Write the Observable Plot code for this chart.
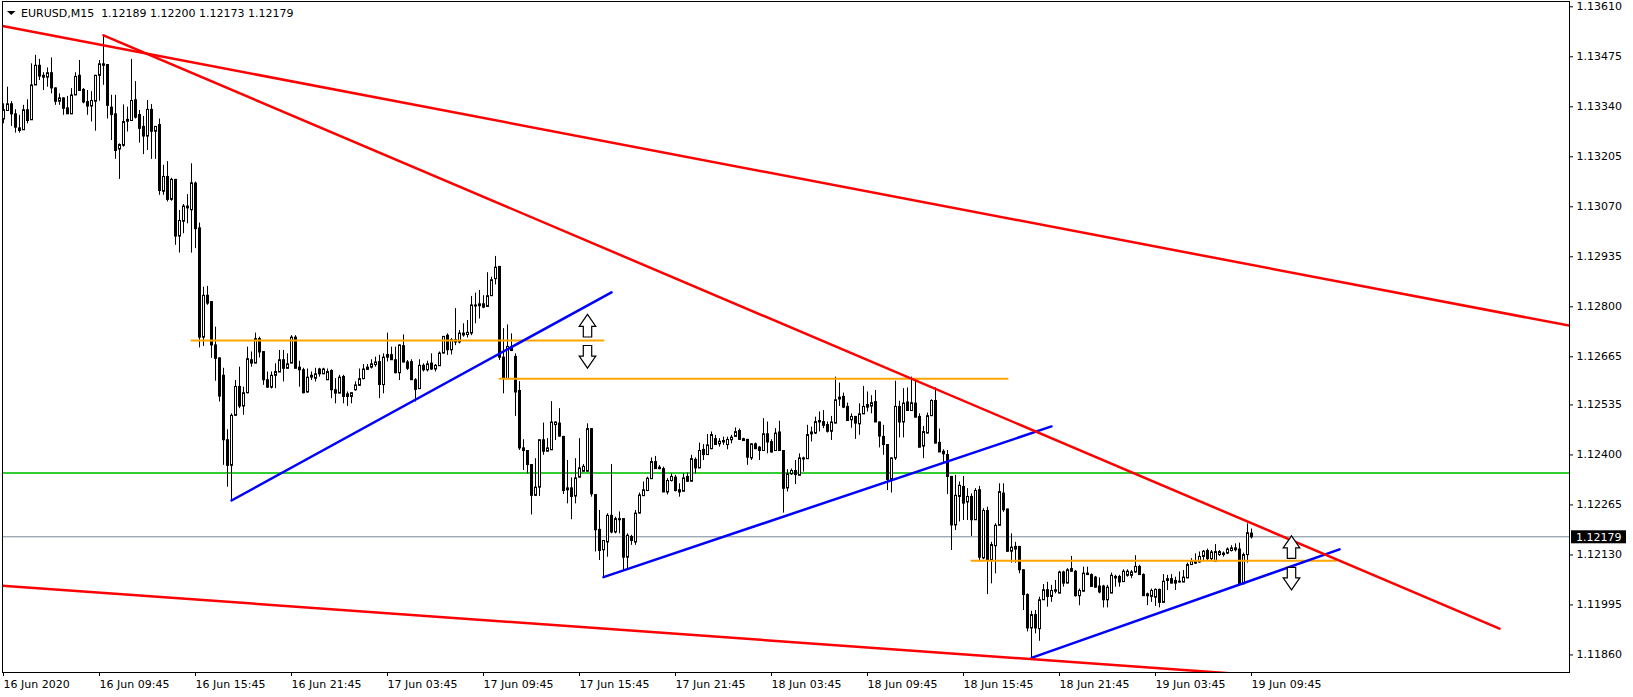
<!DOCTYPE html>
<html><head><meta charset="utf-8">
<script src="https://cdn.jsdelivr.net/npm/d3@7"></script>
<script src="https://cdn.jsdelivr.net/npm/@observablehq/plot@0.6"></script>
<style>
html,body{margin:0;padding:0;background:#fff;}
#chart{position:relative;width:1633px;height:697px;overflow:hidden;}
svg{display:block;}
</style></head><body><div id="chart"></div>
<script>
const symbolName = "EURUSD";
const timeframe = "M15";

const open = [
1.13307,1.13330,1.13348,1.13321,1.13283,1.13278,1.13332,1.13305,1.13399,1.13452,
1.13425,1.13420,1.13432,1.13391,1.13355,1.13364,1.13337,1.13321,1.13372,1.13425,
1.13387,1.13354,1.13342,1.13355,1.13425,1.13456,1.13454,1.13339,1.13321,1.13226,
1.13236,1.13301,1.13303,1.13359,1.13319,1.13287,1.13261,1.13333,1.13274,1.13292,
1.13112,1.13152,1.13090,1.13144,1.12991,1.13031,1.13067,1.13062,1.13134,1.13013,
1.12718,1.12831,1.12814,1.12697,1.12662,1.12615,1.12441,1.12372,1.12507,1.12585,
1.12532,1.12568,1.12657,1.12648,1.12714,1.12679,1.12603,1.12583,1.12615,1.12624,
1.12657,1.12634,1.12648,1.12718,1.12637,1.12630,1.12570,1.12610,1.12607,1.12632,
1.12619,1.12603,1.12628,1.12576,1.12567,1.12612,1.12565,1.12558,1.12576,1.12588,
1.12606,1.12631,1.12637,1.12644,1.12652,1.12590,1.12664,1.12671,1.12657,1.12622,
1.12695,1.12651,1.12652,1.12603,1.12579,1.12642,1.12630,1.12648,1.12632,1.12641,
1.12675,1.12723,1.12684,1.12711,1.12705,1.12724,1.12725,1.12729,1.12802,1.12803,
1.12808,1.12801,1.12830,1.12876,1.12909,1.12664,1.12606,1.12693,1.12666,1.12574,
1.12419,1.12412,1.12374,1.12291,1.12313,1.12441,1.12410,1.12414,1.12482,1.12486,
1.12450,1.12311,1.12311,1.12289,1.12340,1.12356,1.12356,1.12471,1.12293,1.12199,
1.12144,1.12165,1.12237,1.12192,1.12225,1.12228,1.12124,1.12180,1.12165,1.12243,
1.12290,1.12304,1.12336,1.12382,1.12367,1.12363,1.12300,1.12331,1.12340,1.12306,
1.12302,1.12342,1.12329,1.12388,1.12365,1.12415,1.12401,1.12417,1.12444,1.12430,
1.12435,1.12428,1.12441,1.12450,1.12466,1.12444,1.12442,1.12392,1.12430,1.12421,
1.12412,1.12457,1.12436,1.12412,1.12462,1.12412,1.12311,1.12349,1.12358,1.12345,
1.12389,1.12390,1.12457,1.12459,1.12493,1.12490,1.12482,1.12464,1.12486,1.12551,
1.12558,1.12531,1.12495,1.12504,1.12484,1.12511,1.12529,1.12532,1.12544,1.12489,
1.12450,1.12428,1.12334,1.12392,1.12531,1.12489,1.12543,1.12520,1.12540,1.12504,
1.12424,1.12459,1.12506,1.12547,1.12434,1.12410,1.12401,1.12342,1.12211,1.12288,
1.12315,1.12273,1.12288,1.12225,1.12306,1.12122,1.12250,1.12117,1.12155,1.12210,
1.12297,1.12254,1.12140,1.12153,1.12153,1.12090,1.12023,1.11933,1.11969,1.11931,
1.12009,1.12036,1.12018,1.12032,1.12027,1.12084,1.12054,1.12093,1.12086,1.12020,
1.12032,1.12077,1.12077,1.12070,1.12046,1.12046,1.12009,1.12027,1.12068,1.12072,
1.12058,1.12075,1.12075,1.12084,1.12099,1.12077,1.12025,1.12018,1.12016,1.12037,
1.12002,1.12061,1.12066,1.12061,1.12057,1.12057,1.12068,1.12104,1.12115,1.12111,
1.12126,1.12142,1.12120,1.12113,1.12131,1.12135,1.12135,1.12142,1.12149,1.12146,
1.12052,1.12131,1.12189];

const high = [
1.13348,1.13393,1.13354,1.13332,1.13317,1.13344,1.13359,1.13456,1.13479,1.13468,
1.13432,1.13445,1.13472,1.13391,1.13375,1.13364,1.13368,1.13389,1.13432,1.13465,
1.13389,1.13384,1.13381,1.13425,1.13465,1.13533,1.13454,1.13371,1.13371,1.13240,
1.13345,1.13339,1.13468,1.13408,1.13330,1.13314,1.13357,1.13346,1.13287,1.13307,
1.13182,1.13192,1.13147,1.13144,1.13060,1.13076,1.13103,1.13186,1.13137,1.13026,
1.12853,1.12855,1.12814,1.12745,1.12662,1.12634,1.12468,1.12511,1.12601,1.12637,
1.12583,1.12691,1.12678,1.12729,1.12718,1.12679,1.12624,1.12624,1.12646,1.12682,
1.12682,1.12673,1.12722,1.12722,1.12653,1.12634,1.12632,1.12624,1.12634,1.12634,
1.12634,1.12632,1.12630,1.12606,1.12615,1.12615,1.12570,1.12568,1.12597,1.12632,
1.12644,1.12644,1.12657,1.12664,1.12669,1.12673,1.12729,1.12691,1.12691,1.12697,
1.12724,1.12655,1.12657,1.12606,1.12657,1.12646,1.12653,1.12673,1.12644,1.12678,
1.12720,1.12727,1.12714,1.12795,1.12736,1.12754,1.12763,1.12828,1.12837,1.12844,
1.12830,1.12892,1.12880,1.12936,1.12909,1.12741,1.12751,1.12727,1.12673,1.12598,
1.12441,1.12412,1.12374,1.12390,1.12441,1.12486,1.12444,1.12544,1.12489,1.12525,
1.12450,1.12385,1.12338,1.12390,1.12444,1.12374,1.12484,1.12471,1.12293,1.12250,
1.12169,1.12241,1.12374,1.12232,1.12246,1.12228,1.12187,1.12183,1.12250,1.12297,
1.12327,1.12340,1.12392,1.12396,1.12371,1.12367,1.12336,1.12349,1.12345,1.12322,
1.12349,1.12351,1.12399,1.12392,1.12432,1.12428,1.12455,1.12462,1.12453,1.12444,
1.12448,1.12448,1.12453,1.12473,1.12470,1.12445,1.12442,1.12430,1.12432,1.12423,
1.12498,1.12489,1.12441,1.12471,1.12491,1.12412,1.12360,1.12362,1.12385,1.12403,
1.12394,1.12480,1.12475,1.12502,1.12516,1.12520,1.12489,1.12504,1.12610,1.12594,
1.12567,1.12540,1.12511,1.12504,1.12538,1.12585,1.12570,1.12560,1.12574,1.12489,
1.12480,1.12428,1.12392,1.12599,1.12545,1.12579,1.12581,1.12610,1.12606,1.12511,
1.12477,1.12513,1.12549,1.12581,1.12470,1.12414,1.12412,1.12342,1.12345,1.12327,
1.12342,1.12309,1.12295,1.12309,1.12315,1.12255,1.12259,1.12164,1.12214,1.12322,
1.12322,1.12254,1.12187,1.12164,1.12153,1.12090,1.12025,1.11978,1.11980,1.12016,
1.12050,1.12056,1.12048,1.12061,1.12086,1.12086,1.12093,1.12126,1.12088,1.12038,
1.12097,1.12097,1.12079,1.12072,1.12068,1.12048,1.12048,1.12081,1.12075,1.12075,
1.12090,1.12090,1.12088,1.12128,1.12102,1.12079,1.12027,1.12038,1.12038,1.12038,
1.12077,1.12075,1.12077,1.12070,1.12084,1.12088,1.12108,1.12120,1.12133,1.12138,
1.12142,1.12146,1.12142,1.12158,1.12142,1.12138,1.12149,1.12155,1.12160,1.12162,
1.12135,1.12214,1.12200];

const low = [
1.13294,1.13328,1.13287,1.13269,1.13269,1.13276,1.13294,1.13303,1.13398,1.13411,
1.13384,1.13393,1.13375,1.13344,1.13344,1.13317,1.13319,1.13319,1.13371,1.13384,
1.13348,1.13317,1.13299,1.13274,1.13355,1.13398,1.13307,1.13249,1.13198,1.13144,
1.13231,1.13272,1.13301,1.13307,1.13242,1.13211,1.13222,1.13198,1.13198,1.13101,
1.13101,1.13083,1.13085,1.12966,1.12945,1.12997,1.13024,1.12945,1.12957,1.12689,
1.12693,1.12804,1.12661,1.12599,1.12543,1.12372,1.12313,1.12277,1.12504,1.12525,
1.12507,1.12565,1.12637,1.12648,1.12662,1.12588,1.12580,1.12578,1.12579,1.12624,
1.12597,1.12632,1.12648,1.12634,1.12583,1.12565,1.12567,1.12601,1.12597,1.12610,
1.12617,1.12601,1.12552,1.12538,1.12565,1.12538,1.12531,1.12538,1.12572,1.12585,
1.12603,1.12630,1.12632,1.12637,1.12552,1.12565,1.12651,1.12655,1.12619,1.12601,
1.12648,1.12628,1.12601,1.12543,1.12577,1.12624,1.12624,1.12628,1.12624,1.12639,
1.12673,1.12669,1.12670,1.12695,1.12700,1.12718,1.12716,1.12722,1.12754,1.12767,
1.12795,1.12799,1.12828,1.12859,1.12655,1.12565,1.12603,1.12679,1.12504,1.12412,
1.12358,1.12349,1.12238,1.12288,1.12288,1.12399,1.12410,1.12412,1.12439,1.12448,
1.12293,1.12268,1.12225,1.12268,1.12338,1.12354,1.12354,1.12286,1.12138,1.12115,
1.12070,1.12124,1.12187,1.12187,1.12187,1.12088,1.12093,1.12156,1.12156,1.12241,
1.12290,1.12301,1.12336,1.12363,1.12360,1.12300,1.12292,1.12327,1.12300,1.12286,
1.12301,1.12327,1.12327,1.12349,1.12363,1.12385,1.12399,1.12414,1.12428,1.12421,
1.12426,1.12414,1.12430,1.12448,1.12439,1.12436,1.12372,1.12385,1.12414,1.12385,
1.12410,1.12403,1.12405,1.12410,1.12410,1.12243,1.12300,1.12345,1.12320,1.12345,
1.12354,1.12390,1.12435,1.12455,1.12462,1.12471,1.12459,1.12439,1.12484,1.12531,
1.12525,1.12493,1.12472,1.12442,1.12453,1.12509,1.12516,1.12511,1.12489,1.12419,
1.12399,1.12304,1.12297,1.12385,1.12446,1.12446,1.12520,1.12520,1.12500,1.12419,
1.12390,1.12457,1.12504,1.12430,1.12408,1.12380,1.12293,1.12142,1.12196,1.12219,
1.12223,1.12223,1.12180,1.12223,1.12111,1.12117,1.12023,1.12052,1.12079,1.12210,
1.12245,1.12137,1.12108,1.12108,1.12079,1.11980,1.11922,1.11852,1.11917,1.11897,
1.12007,1.11989,1.12002,1.12025,1.12025,1.12043,1.12052,1.12084,1.12016,1.11993,
1.12030,1.12075,1.12043,1.12040,1.12025,1.11987,1.11987,1.12027,1.12043,1.12043,
1.12057,1.12070,1.12066,1.12081,1.12075,1.12020,1.11993,1.12002,1.11991,1.11987,
1.12000,1.12034,1.12052,1.12034,1.12054,1.12055,1.12067,1.12102,1.12104,1.12108,
1.12111,1.12113,1.12113,1.12111,1.12126,1.12124,1.12131,1.12138,1.12138,1.12050,
1.12050,1.12108,1.12173];

const close = [
1.13332,1.13348,1.13321,1.13285,1.13276,1.13332,1.13303,1.13399,1.13452,1.13423,
1.13420,1.13432,1.13391,1.13355,1.13364,1.13336,1.13321,1.13372,1.13422,1.13384,
1.13353,1.13342,1.13357,1.13425,1.13456,1.13452,1.13344,1.13319,1.13222,1.13238,
1.13300,1.13306,1.13357,1.13312,1.13282,1.13261,1.13333,1.13274,1.13287,1.13114,
1.13152,1.13090,1.13144,1.12991,1.13033,1.13072,1.13072,1.13135,1.13011,1.12718,
1.12831,1.12810,1.12697,1.12661,1.12559,1.12441,1.12372,1.12507,1.12585,1.12532,
1.12568,1.12660,1.12648,1.12714,1.12678,1.12603,1.12583,1.12615,1.12625,1.12657,
1.12634,1.12646,1.12718,1.12634,1.12630,1.12568,1.12610,1.12615,1.12619,1.12619,
1.12632,1.12625,1.12576,1.12567,1.12610,1.12558,1.12558,1.12568,1.12589,1.12606,
1.12632,1.12637,1.12646,1.12651,1.12590,1.12664,1.12671,1.12657,1.12622,1.12697,
1.12651,1.12634,1.12603,1.12577,1.12642,1.12630,1.12646,1.12632,1.12642,1.12675,
1.12720,1.12684,1.12711,1.12705,1.12729,1.12729,1.12731,1.12805,1.12805,1.12808,
1.12799,1.12830,1.12873,1.12907,1.12664,1.12606,1.12693,1.12682,1.12570,1.12419,
1.12412,1.12374,1.12291,1.12313,1.12441,1.12410,1.12419,1.12489,1.12489,1.12451,
1.12304,1.12306,1.12288,1.12338,1.12365,1.12369,1.12471,1.12295,1.12198,1.12142,
1.12169,1.12237,1.12192,1.12228,1.12228,1.12124,1.12183,1.12169,1.12243,1.12292,
1.12306,1.12337,1.12382,1.12363,1.12363,1.12300,1.12331,1.12342,1.12304,1.12300,
1.12338,1.12329,1.12390,1.12365,1.12412,1.12401,1.12427,1.12455,1.12428,1.12437,
1.12439,1.12442,1.12448,1.12463,1.12442,1.12439,1.12394,1.12430,1.12417,1.12412,
1.12457,1.12435,1.12408,1.12459,1.12412,1.12310,1.12349,1.12358,1.12347,1.12392,
1.12392,1.12455,1.12462,1.12490,1.12489,1.12480,1.12464,1.12489,1.12549,1.12556,
1.12529,1.12493,1.12504,1.12486,1.12511,1.12531,1.12536,1.12541,1.12489,1.12451,
1.12428,1.12334,1.12392,1.12531,1.12489,1.12540,1.12520,1.12541,1.12502,1.12421,
1.12463,1.12506,1.12547,1.12432,1.12408,1.12403,1.12342,1.12211,1.12291,1.12318,
1.12270,1.12288,1.12225,1.12304,1.12124,1.12250,1.12115,1.12158,1.12210,1.12301,
1.12252,1.12140,1.12151,1.12146,1.12090,1.12023,1.11933,1.11969,1.11933,1.12009,
1.12036,1.12018,1.12034,1.12036,1.12084,1.12054,1.12090,1.12086,1.12020,1.12034,
1.12081,1.12081,1.12045,1.12043,1.12030,1.12009,1.12043,1.12075,1.12072,1.12057,
1.12086,1.12086,1.12084,1.12099,1.12077,1.12020,1.12020,1.12034,1.12037,1.12002,
1.12059,1.12066,1.12054,1.12054,1.12059,1.12070,1.12104,1.12113,1.12108,1.12126,
1.12140,1.12120,1.12138,1.12139,1.12139,1.12131,1.12146,1.12149,1.12144,1.12052,
1.12131,1.12190,1.12179];

// time axis: bar index of each label (M15 bars, first bar = 16 Jun 03:45)
const timeTickBars = [0,24,48,72,96,120,144,168,192,216,240,264,288,312];
const timeTickLabels = ["16 Jun 2020","16 Jun 09:45","16 Jun 15:45","16 Jun 21:45","17 Jun 03:45","17 Jun 09:45","17 Jun 15:45","17 Jun 21:45","18 Jun 03:45","18 Jun 09:45","18 Jun 15:45","18 Jun 21:45","19 Jun 03:45","19 Jun 09:45"];
const priceTicks = [1.13610,1.13475,1.13340,1.13205,1.13070,1.12935,1.12800,1.12665,1.12535,1.12400,1.12265,1.12130,1.11995,1.11860];

const bidPrice = 1.12179;
const greenLevel = 1.12351;

// trend lines: [bar1, price1, bar2, price2]
const redTrends = [
  [-0.25, 1.13558, 391.5, 1.12749],
  [25, 1.13533, 374, 1.11931],
  [-0.25, 1.12047, 391.5, 1.11745]
];
const blueTrends = [
  [57, 1.12277, 152, 1.12839],
  [150, 1.12070, 262, 1.12477],
  [257, 1.11852, 334, 1.12145]
];
const orangeLevels = [
  [47, 150, 1.12709],
  [124, 251, 1.12606],
  [242, 333, 1.12114]
];
const upArrows = [[146, 1.12749], [322, 1.12151]];
const downArrows = [[146, 1.12665], [322, 1.12066]];

const n = open.length;
const candles = d3.range(n).map(i => ({i, o: open[i], h: high[i], l: low[i], c: close[i]}));
const toSeg = (arr) => arr.flatMap((t, k) => [{k, x: t[0], y: t[1]}, {k, x: t[2], y: t[3]}]);
const toLvl = (arr) => arr.flatMap((t, k) => [{k, x: t[0], y: t[2]}, {k, x: t[1], y: t[2]}]);

const upSym = {draw(ctx) {
  ctx.moveTo(0, -11.3); ctx.lineTo(8.3, 0.7); ctx.lineTo(4.2, 0.7); ctx.lineTo(4.2, 11.3);
  ctx.lineTo(-4.2, 11.3); ctx.lineTo(-4.2, 0.7); ctx.lineTo(-8.3, 0.7); ctx.closePath();
}};
const downSym = {draw(ctx) {
  ctx.moveTo(0, 11.3); ctx.lineTo(8.3, -0.7); ctx.lineTo(4.2, -0.7); ctx.lineTo(4.2, -11.3);
  ctx.lineTo(-4.2, -11.3); ctx.lineTo(-4.2, -0.7); ctx.lineTo(-8.3, -0.7); ctx.closePath();
}};

const plot = Plot.plot({
  width: 1633, height: 697,
  marginLeft: 2, marginRight: 64, marginTop: 1, marginBottom: 25,
  style: {fontFamily: "'DejaVu Sans', Verdana, sans-serif", fontSize: "11px", background: "white", color: "black"},
  x: {type: "linear", domain: [-0.25, 391.5]},
  y: {type: "linear", domain: [1.118126, 1.136243]},
  marks: [
    Plot.ruleY([bidPrice], {stroke: "#778899", strokeWidth: 1}),
    Plot.ruleY([greenLevel], {stroke: "#32CD32", strokeWidth: 2}),
    Plot.ruleX(candles, {x: "i", y1: "l", y2: "h", stroke: "black", strokeWidth: 1}),
    Plot.rect(candles, {x1: d => d.i - 0.25, x2: d => d.i + 0.25, y1: "o", y2: "c", dx: 0.5, dy: 0.5,
      fill: d => d.c >= d.o ? "white" : "black", stroke: "black", strokeWidth: 1}),
    Plot.line(toLvl(orangeLevels), {x: "x", y: "y", z: "k", stroke: "#FFA500", strokeWidth: 2, clip: true}),
    Plot.line(toSeg(blueTrends), {x: "x", y: "y", z: "k", stroke: "#0000FF", strokeWidth: 2.5, clip: true}),
    Plot.line(toSeg(redTrends), {x: "x", y: "y", z: "k", stroke: "#FF0000", strokeWidth: 2.5, clip: true}),
    Plot.dot(upArrows, {x: d => d[0], y: d => d[1], symbol: upSym, fill: "white", stroke: "black", strokeWidth: 1.2}),
    Plot.dot(downArrows, {x: d => d[0], y: d => d[1], symbol: downSym, fill: "white", stroke: "black", strokeWidth: 1.2}),
    Plot.frame({stroke: "black"}),
    Plot.axisY({anchor: "right", ticks: priceTicks, tickFormat: d => d.toFixed(5), tickSize: 3, tickPadding: 4, label: null, fill: "black"}),
    Plot.axisX({anchor: "bottom", ticks: timeTickBars, tickFormat: d => timeTickLabels[timeTickBars.indexOf(d)], tickSize: 4, tickPadding: 4, textAnchor: "start", label: null, fill: "black"})
  ]
});

document.getElementById("chart").appendChild(plot);

// price label of the current bid on the right axis, and the chart caption
const svg = d3.select(plot);
const yc = plot.scale("y").apply(bidPrice) + 0.5;
const g = svg.append("g").attr("text-anchor", "start");
g.append("rect").attr("x", 1571).attr("y", yc - 6.5).attr("width", 55).attr("height", 13).attr("fill", "black");
g.append("text").attr("x", 1576).attr("y", yc).attr("dy", "0.35em").attr("fill", "white").attr("text-anchor", "start")
  .style("font-family", "'DejaVu Sans', sans-serif").style("font-size", "11px").text(bidPrice.toFixed(5));
g.append("path").attr("d", "M7,11L15.5,11L11.25,15Z").attr("fill", "black");
const last = n - 1;
g.append("text").attr("x", 21).attr("y", 17).attr("fill", "black").attr("text-anchor", "start")
  .style("font-family", "'DejaVu Sans', sans-serif").style("font-size", "11px").style("white-space", "pre")
  .attr("xml:space", "preserve")
  .text(`${symbolName},${timeframe}  ${open[last].toFixed(5)} ${high[last].toFixed(5)} ${low[last].toFixed(5)} ${close[last].toFixed(5)}`);
</script>
</body></html>
